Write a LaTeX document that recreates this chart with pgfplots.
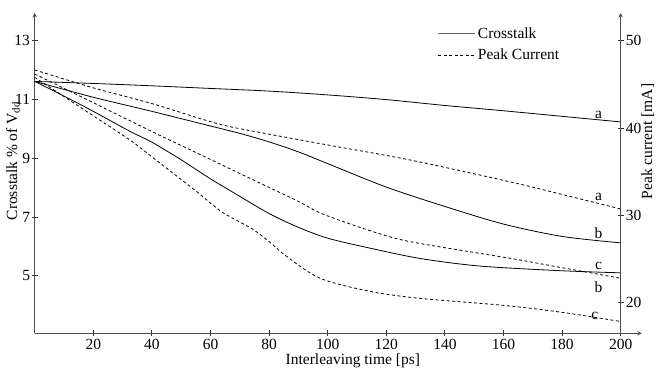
\documentclass[border=0pt]{standalone}
\usepackage{fontspec}
\setmainfont{Liberation Serif}
\usepackage{pgfplots}
\pgfplotsset{compat=1.18}
\usetikzlibrary{arrows.meta}
\newcommand\fs{\fontsize{15.5}{18}\selectfont}
\tikzset{
  dsh/.style={black, line width=0.8pt, dash pattern=on 3pt off 2.5pt},
  sld/.style={black, line width=0.8pt},
}
\pgfplotsset{
  myax/.style={
    scale only axis,
    axis line style={black!70, line width=1pt, -{Straight Barb[length=7pt,width=8pt]}},
    tick align=inside, major tick length=6pt,
    tick style={black!80, line width=0.9pt},
    tick label style={font=\fs},
    label style={font=\fs},
    /pgf/number format/assume math mode=true,
  }
}
\begin{document}
\begin{tikzpicture}
\begin{axis}[myax,
  width=607.1pt, height=320.3pt,
  xmin=0, xmax=207.2, ymin=3.04, ymax=13.95,
  axis x line=bottom, axis y line=left,
  xtick={20,40,...,200}, ytick={5,7,9,11,13},
  yticklabel style={inner xsep=1.5pt},
  xticklabel style={inner ysep=2.5pt},
  xlabel={Interleaving time [ps]},
  ylabel={Crosstalk \% of V\textsubscript{dd}},
  xlabel style={font=\fs, at={(axis description cs:0.524,0)}, anchor=base, yshift=-31.5pt},
  ylabel style={font=\fs, at={(axis description cs:-0.029,0.538)}, anchor=base},
  legend style={at={(axis description cs:0.664,0.961)}, anchor=north west,
    draw=none, fill=none, font=\fs, inner sep=0pt, row sep=5pt},
  legend cell align=left,
  legend image code/.code={\draw[#1] (0pt,0pt) -- (37pt,0pt);},
]
\addlegendimage{black!60, line width=0.9pt}
\addlegendentry{Crosstalk}
\addlegendimage{dsh}
\addlegendentry{Peak Current}
% Crosstalk a
\addplot[sld, smooth, forget plot] coordinates {
 (0,11.62) (20,11.55) (40,11.47) (60,11.38) (80,11.29) (100,11.16)
 (120,11.0) (140,10.8) (160,10.62) (180,10.43) (200,10.24)};
% Crosstalk b
\addplot[sld, smooth, forget plot] coordinates {
 (0,11.62) (20,11.08) (40,10.6) (60,10.1) (70,9.85) (80,9.56) (90,9.22)
 (100,8.82) (120,8.02) (140,7.36) (160,6.76) (180,6.34) (200,6.12)};
% Crosstalk c
\addplot[sld, smooth, forget plot] coordinates {
 (0,11.62) (10,11.12) (20,10.6) (32.5,9.92) (40,9.55) (50,8.95) (60,8.3)
 (66.7,7.9) (80,7.12) (90,6.65) (100,6.28) (114,5.95) (131.5,5.59)
 (152,5.33) (180,5.17) (200,5.1)};
\node[font=\fs] at (axis cs:192.4,10.47) {a};
\node[font=\fs] at (axis cs:192.4,7.69) {a};
\node[font=\fs] at (axis cs:192.4,6.46) {b};
\node[font=\fs] at (axis cs:192.4,5.35) {c};
\node[font=\fs] at (axis cs:192.4,4.62) {b};
\node[font=\fs] at (axis cs:191.2,3.62) {c};
\end{axis}
\begin{axis}[myax,
  width=586pt, height=320.3pt,
  xmin=0, xmax=200, ymin=16.5, ymax=53.17,
  axis y line=right, axis x line=none,
  ytick={20,30,40,50},
  yticklabel style={inner xsep=2pt},
  ylabel={Peak current [mA]},
  ylabel style={font=\fs, at={(axis description cs:1.0538,0.599)}, anchor=base},
]
% Peak current a
\addplot[dsh, smooth] coordinates {
 (0,46.65) (20,44.6) (40,42.8) (63,40.45) (80,39.3) (100,38.06)
 (128,36.35) (162,33.86) (180,32.4) (200,30.73)};
% Peak current b
\addplot[dsh, smooth] coordinates {
 (0,46.19) (20,42.9) (40,39.6) (50,38.0) (60,36.4) (70,34.8) (80,33.2)
 (90,31.6) (98,30.2) (114,28.3) (128,27.0) (162,25.1) (178,24.13) (200,22.8)};
% Peak current c
\addplot[dsh, smooth] coordinates {
 (0,45.8) (20,41.4) (32.5,38.63) (40,36.7) (50,34.1) (55,32.8) (63,30.6)
 (68,29.6) (74.5,28.4) (80,27.0) (86,25.3) (97.4,22.8) (114.4,21.3)
 (131.5,20.5) (160,19.7) (180,18.9) (200,17.85)};
\end{axis}
\pgfresetboundingbox
\useasboundingbox (-34.7pt,-36.7pt) rectangle (623.3pt,333.3pt);
\end{tikzpicture}
\end{document}
